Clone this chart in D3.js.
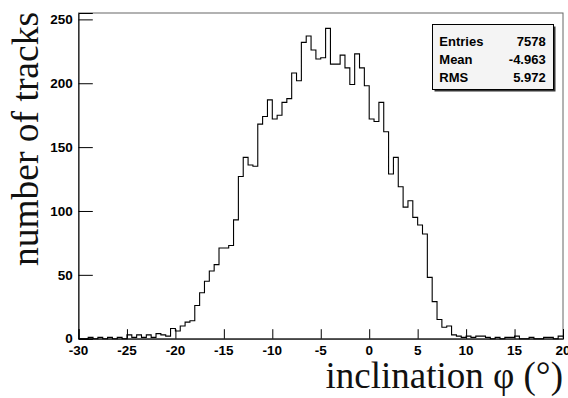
<!DOCTYPE html>
<html>
<head>
<meta charset="utf-8">
<script src="https://cdn.jsdelivr.net/npm/d3@7"></script>
<style>
  html, body { margin: 0; padding: 0; background: #ffffff; }
  svg { display: block; }
</style>
</head>
<body>
<svg id="chart" width="568" height="398"></svg>
<script>
// Histogram of track inclination: 100 bins of 0.5 deg from -30 to 20
const xMin = -30;
const xMax = 20;
const binWidth = 0.5;
const counts = [
  0, 0, 1, 0, 1, 0, 1, 0, 1, 0,
  3, 1, 3, 1, 3, 1, 4, 3, 2, 8,
  6, 10, 13, 14, 26, 36, 45, 53, 58, 71,
  71, 73, 93, 127, 142, 136, 135, 168, 174, 187,
  172, 175, 185, 188, 208, 202, 232, 237, 226, 219,
  220, 243, 215, 215, 222, 212, 199, 223, 212, 198,
  172, 170, 185, 162, 129, 142, 119, 103, 108, 95,
  89, 82, 48, 29, 15, 9, 10, 3, 2, 1,
  2, 1, 2, 2, 1, 0, 1, 0, 1, 1,
  2, 0, 0, 1, 0, 0, 1, 1, 0, 2
];
const xTickLabels = [-30, -25, -20, -15, -10, -5, 0, 5, 10, 15, 20];
const yTickLabels = [0, 50, 100, 150, 200, 250];
const yMax = 255;
const statNames = ["Entries", "Mean", "RMS"];
const statValues = ["7578", "-4.963", "5.972"];
const xTitle = "inclination \u03c6 (\u00b0)";
const yTitle = "number of tracks";

const svg = d3.select("#chart");
const frame = { left: 78.5, right: 563, top: 13, bottom: 338.7 };

const x = d3.scaleLinear().domain([xMin, xMax]).range([frame.left, frame.right]);
const y = d3.scaleLinear().domain([0, yMax]).range([frame.bottom, frame.top]);

// frame box
svg.append("rect")
  .attr("x", frame.left).attr("y", frame.top)
  .attr("width", frame.right - frame.left)
  .attr("height", frame.bottom - frame.top)
  .attr("fill", "none").attr("stroke", "#666").attr("stroke-width", 1);

// histogram outline as steps
const pts = counts.map((c, i) => [xMin + i * binWidth, c]);
pts.push([xMax, counts[counts.length - 1]]);
const line = d3.line()
  .x(d => x(d[0])).y(d => y(d[1]))
  .curve(d3.curveStepAfter);
svg.append("path")
  .attr("d", line(pts))
  .attr("fill", "none")
  .attr("stroke", "#000")
  .attr("stroke-width", 1.1);

// x axis: major ticks every 5, minor every 1, drawn inward
const gx = svg.append("g").attr("transform", `translate(0,${frame.bottom})`);
gx.call(d3.axisTop(x).tickValues(d3.range(xMin, xMax + 0.001, 1)).tickSize(4.7).tickFormat(""))
  .call(g => g.select(".domain").remove());
gx.call(d3.axisTop(x).tickValues(xTickLabels).tickSize(9.5).tickFormat(""))
  .call(g => g.select(".domain").attr("stroke", "#000"));
gx.selectAll(".tick line").attr("stroke", "#000");
svg.selectAll(".xlab").data(xTickLabels).enter().append("text")
  .attr("class", "xlab")
  .attr("x", d => x(d)).attr("y", 354.5)
  .attr("text-anchor", "middle")
  .attr("font-family", "Liberation Sans, Arial, sans-serif")
  .attr("font-weight", "bold").attr("font-size", 13.5)
  .text(d => d);

// y axis: major ticks every 50, minor every 10
const gy = svg.append("g").attr("transform", `translate(${frame.left},0)`);
gy.call(d3.axisRight(y).tickValues(d3.range(0, 251, 10)).tickSize(7.7).tickFormat(""))
  .call(g => g.select(".domain").remove());
gy.call(d3.axisRight(y).tickValues(yTickLabels).tickSize(14.3).tickFormat(""))
  .call(g => g.select(".domain").attr("stroke", "#000"));
gy.selectAll(".tick line").attr("stroke", "#000");
svg.selectAll(".ylab").data(yTickLabels).enter().append("text")
  .attr("class", "ylab")
  .attr("x", 72.7).attr("y", d => y(d))
  .attr("dy", "0.35em")
  .attr("text-anchor", "end")
  .attr("font-family", "Liberation Sans, Arial, sans-serif")
  .attr("font-weight", "bold").attr("font-size", 13.5)
  .text(d => d);

// axis titles
svg.append("text")
  .attr("x", 563).attr("y", 388)
  .attr("text-anchor", "end")
  .attr("font-family", "Liberation Serif, Times New Roman, serif")
  .attr("font-size", 37).attr("fill", "#111")
  .text(xTitle);
svg.append("text")
  .attr("transform", "translate(38,12) rotate(-90)")
  .attr("text-anchor", "end")
  .attr("font-family", "Liberation Serif, Times New Roman, serif")
  .attr("font-size", 37.5).attr("fill", "#111")
  .text(yTitle);

// statistics box with drop shadow
const box = { x: 432.5, y: 24.5, w: 121, h: 65 };
svg.append("rect")
  .attr("x", box.x + 2).attr("y", box.y + 2)
  .attr("width", box.w).attr("height", box.h)
  .attr("fill", "#333");
svg.append("rect")
  .attr("x", box.x).attr("y", box.y)
  .attr("width", box.w).attr("height", box.h)
  .attr("fill", "#f4f4f4").attr("stroke", "#000").attr("stroke-width", 1);
const rowY = [46, 64, 81.7];
statNames.forEach((n, i) => {
  svg.append("text")
    .attr("x", 439.3).attr("y", rowY[i])
    .attr("font-family", "Liberation Sans, Arial, sans-serif")
    .attr("font-weight", "bold").attr("font-size", 13)
    .text(n);
  svg.append("text")
    .attr("x", 545.7).attr("y", rowY[i])
    .attr("text-anchor", "end")
    .attr("font-family", "Liberation Sans, Arial, sans-serif")
    .attr("font-weight", "bold").attr("font-size", 13)
    .text(statValues[i]);
});
</script>
</body>
</html>
